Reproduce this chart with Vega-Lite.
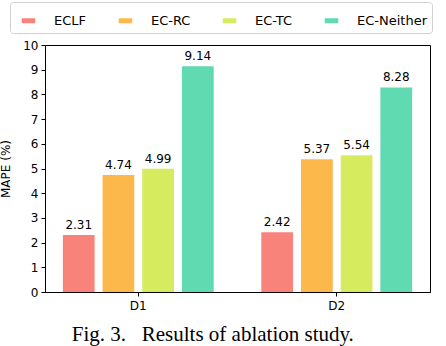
{
  "$schema": "https://vega.github.io/schema/vega-lite/v6.json",
  "width": 385,
  "height": 247,
  "autosize": {"type": "none"},
  "padding": {"left": 45, "top": 45, "right": 16, "bottom": 54},
  "title": {
    "text": "Fig. 3.\u00a0\u00a0 Results of ablation study.",
    "orient": "bottom",
    "anchor": "start",
    "offset": 13,
    "dx": 72,
    "font": "Liberation Serif",
    "fontSize": 21,
    "fontWeight": "normal",
    "color": "black"
  },
  "data": {
    "values": [
      {"dataset": "D1", "method": "ECLF", "mape": 2.31},
      {"dataset": "D1", "method": "EC-RC", "mape": 4.74},
      {"dataset": "D1", "method": "EC-TC", "mape": 4.99},
      {"dataset": "D1", "method": "EC-Neither", "mape": 9.14},
      {"dataset": "D2", "method": "ECLF", "mape": 2.42},
      {"dataset": "D2", "method": "EC-RC", "mape": 5.37},
      {"dataset": "D2", "method": "EC-TC", "mape": 5.54},
      {"dataset": "D2", "method": "EC-Neither", "mape": 8.28}
    ]
  },
  "encoding": {
    "x": {
      "field": "dataset", "type": "nominal",
      "scale": {"paddingInner": 0.24, "paddingOuter": 0.09},
      "axis": {"title": null, "labelAngle": 0, "labelFont": "DejaVu Sans", "labelFontSize": 12, "labelColor": "black", "tickColor": "black", "domainColor": "black", "tickSize": 4, "labelPadding": 4}
    },
    "xOffset": {
      "field": "method", "type": "nominal",
      "sort": ["ECLF", "EC-RC", "EC-TC", "EC-Neither"],
      "scale": {"paddingInner": 0.2, "paddingOuter": 0}
    },
    "y": {
      "field": "mape", "type": "quantitative",
      "scale": {"domain": [0, 10], "nice": false},
      "axis": {"title": "MAPE (%)", "titleFont": "DejaVu Sans", "titleFontSize": 12, "titleFontWeight": "normal", "titleColor": "black", "titlePadding": 10, "values": [0,1,2,3,4,5,6,7,8,9,10], "grid": false, "labelFont": "DejaVu Sans", "labelFontSize": 12, "labelColor": "black", "tickColor": "black", "domainColor": "black", "tickSize": 4, "labelPadding": 3}
    }
  },
  "layer": [
    {
      "mark": {"type": "bar"},
      "encoding": {
        "color": {
          "field": "method", "type": "nominal",
          "sort": ["ECLF", "EC-RC", "EC-TC", "EC-Neither"],
          "scale": {"domain": ["ECLF", "EC-RC", "EC-TC", "EC-Neither"], "range": ["#F8837A", "#FDB84C", "#D6EC5E", "#5FDAB1"]},
          "legend": {
            "title": null,
            "orient": "none",
            "legendX": -35,
            "legendY": -43,
            "direction": "horizontal",
            "columns": 4,
            "columnPadding": 25,
            "labelOffset": 12,
            "labelFont": "DejaVu Sans",
            "labelFontSize": 13,
            "labelColor": "black",
            "symbolType": "M-0.5,-0.185H0.5V0.185H-0.5Z",
            "symbolSize": 729,
            "symbolStrokeWidth": 0,
            "symbolOpacity": 1,
            "strokeColor": "#d0d0d0",
            "cornerRadius": 3,
            "padding": 5
          }
        }
      }
    },
    {
      "mark": {"type": "text", "baseline": "bottom", "dy": -3, "font": "DejaVu Sans", "fontSize": 12, "color": "black"},
      "encoding": {
        "text": {"field": "mape", "type": "quantitative", "format": ".2f"}
      }
    }
  ],
  "config": {
    "view": {"stroke": "black", "strokeWidth": 1}
  }
}
